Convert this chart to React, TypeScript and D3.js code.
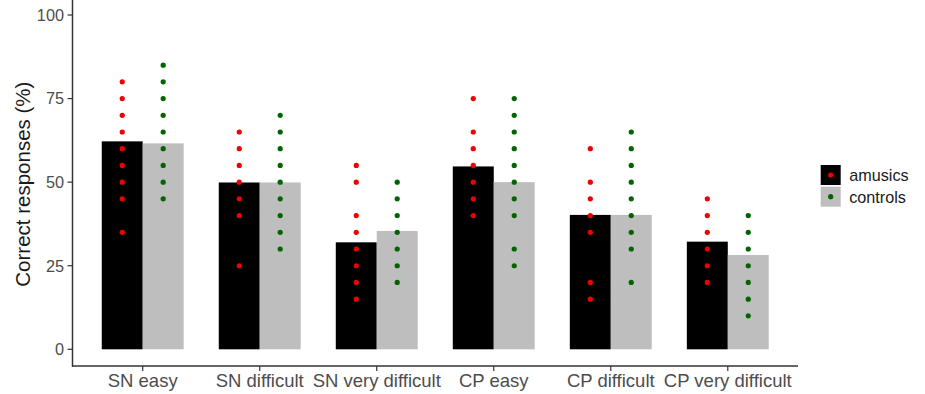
import React from 'react';
import * as d3 from 'd3';

const categories = ['SN easy', 'SN difficult', 'SN very difficult', 'CP easy', 'CP difficult', 'CP very difficult'];
const groups = ['amusics', 'controls'];

// group means (bar heights, %)
const amusicsMeans = [62.2, 49.9, 32.0, 54.7, 40.2, 32.2];
const controlsMeans = [61.6, 49.9, 35.4, 50.0, 40.2, 28.2];

// individual scores (dots)
const amusicsScores = [
  [80, 75, 70, 65, 60, 55, 50, 45, 35],
  [65, 60, 55, 50, 45, 40, 25],
  [55, 50, 40, 35, 30, 25, 20, 15],
  [75, 65, 60, 55, 50, 45, 40],
  [60, 50, 45, 40, 35, 20, 15],
  [45, 40, 35, 30, 25, 20],
];
const controlsScores = [
  [85, 80, 75, 70, 65, 60, 55, 50, 45],
  [70, 65, 60, 55, 50, 45, 40, 35, 30],
  [50, 45, 40, 35, 30, 25, 20],
  [75, 70, 65, 60, 55, 50, 45, 40, 30, 25],
  [65, 60, 55, 50, 45, 40, 35, 30, 20],
  [40, 35, 30, 25, 20, 15, 10],
];

const yTicks = [0, 25, 50, 75, 100];

const barFill = ['#000000', '#bebebe'];
const dotFill = ['#f00000', '#006400'];

export default function App() {
  const width = 925;
  const height = 394;

  const x = d3.scalePoint<string>().domain(categories).range([72.5, 798]).padding(0.6);
  const step = x.step();
  const barW = step * 0.35;
  const y = d3.scaleLinear().domain([0, 100]).range([349.3, 15]);
  const panelTop = y(105);
  const panelBottom = y(-5);

  const means = [amusicsMeans, controlsMeans];
  const scores = [amusicsScores, controlsScores];
  const font = "'Liberation Sans', Arial, sans-serif";

  return (
    <div style={{ position: 'fixed', left: 0, top: 0 }}>
      <svg width={width} height={height} style={{ display: 'block', background: '#fff' }} fontFamily={font}>
        {/* bars */}
        {groups.map((g, gi) => (
          <g key={g}>
            {categories.map((c, i) => {
              const cx = (x(c) as number) + (gi === 0 ? -barW : 0);
              return (
                <rect
                  key={c}
                  x={cx}
                  y={y(means[gi][i])}
                  width={barW}
                  height={y(0) - y(means[gi][i])}
                  fill={barFill[gi]}
                />
              );
            })}
          </g>
        ))}

        {/* dots */}
        {groups.map((g, gi) => (
          <g key={g + '-dots'}>
            {categories.map((c, i) => {
              const cx = (x(c) as number) + (gi === 0 ? -barW / 2 : barW / 2);
              return scores[gi][i].map((v, k) => (
                <circle key={c + k} cx={cx} cy={y(v)} r={2.6} fill={dotFill[gi]} />
              ));
            })}
          </g>
        ))}

        {/* axes */}
        <line x1={72.5} x2={72.5} y1={panelTop} y2={panelBottom + 0.7} stroke="#333" strokeWidth={1.5} />
        <line x1={72} x2={798} y1={panelBottom} y2={panelBottom} stroke="#333" strokeWidth={1.5} />

        {yTicks.map(t => (
          <g key={t}>
            <line x1={67.5} x2={72.5} y1={y(t)} y2={y(t)} stroke="#333" strokeWidth={1.2} />
            <text x={64} y={y(t)} dy="0.36em" textAnchor="end" fontSize={16.3} fill="#4d4d4d">{t}</text>
          </g>
        ))}

        {categories.map(c => (
          <g key={c}>
            <line x1={x(c)} x2={x(c)} y1={panelBottom} y2={panelBottom + 5} stroke="#333" strokeWidth={1.2} />
            <text x={x(c)} y={387.3} textAnchor="middle" fontSize={18.5} fill="#4d4d4d">{c}</text>
          </g>
        ))}

        <text
          transform={`translate(30, ${(panelTop + panelBottom) / 2 + 2}) rotate(-90)`}
          textAnchor="middle"
          fontSize={20.5}
          fill="#1a1a1a"
        >
          Correct responses (%)
        </text>

        {/* legend */}
        {groups.map((g, gi) => (
          <g key={g + '-legend'} transform={`translate(820.7, ${165 + gi * 21.7})`}>
            <rect width={20} height={20} fill={barFill[gi]} />
            <circle cx={10} cy={10} r={2.6} fill={dotFill[gi]} />
            <text x={28.5} y={10} dy="0.36em" fontSize={16.2} fill="#1a1a1a">{g}</text>
          </g>
        ))}
      </svg>
    </div>
  );
}
